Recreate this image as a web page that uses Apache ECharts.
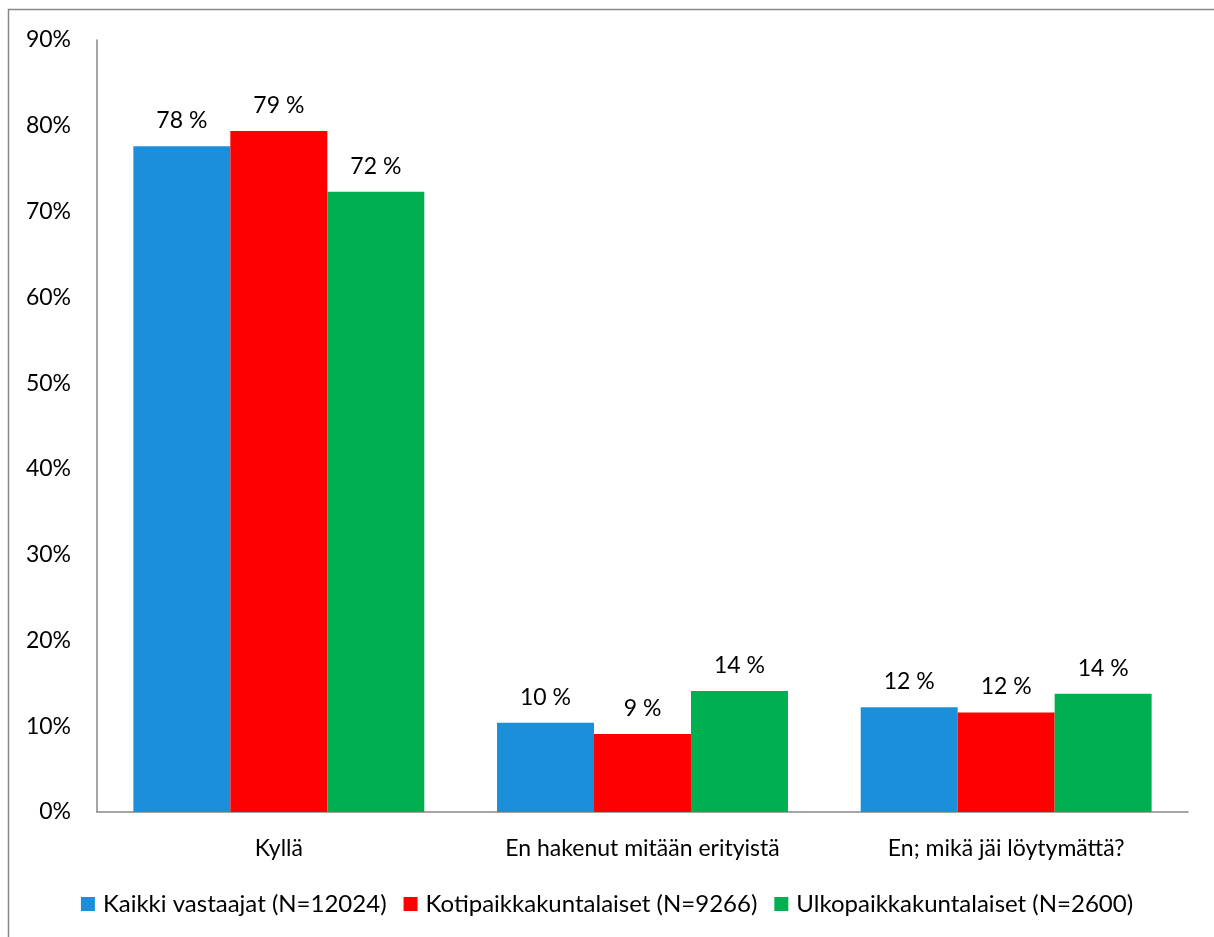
<!DOCTYPE html>
<html><head><meta charset="utf-8">
<script src="https://cdn.jsdelivr.net/npm/echarts@6/dist/echarts.min.js"></script>
<style>html,body{margin:0;padding:0;background:#fff}#c{width:1214px;height:937px}</style>
</head><body><div id="c"></div>
<script>
const categories = ["Kyllä", "En hakenut mitään erityistä", "En; mikä jäi löytymättä?"];
const seriesNames = ["Kaikki vastaajat (N=12024)", "Kotipaikkakuntalaiset (N=9266)", "Ulkopaikkakuntalaiset (N=2600)"];
const kaikki = [77.6, 10.4, 12.2];
const koti = [79.4, 9.1, 11.6];
const ulko = [72.3, 14.1, 13.8];
const colors = ["#1c8fdb", "#ff0000", "#00b050"];
const FONT = "Lato";
const FS = 23;
const chart = echarts.init(document.getElementById('c'));
const mk = (name, data, i) => ({
  name, type: 'bar', data, barGap: '0%', barCategoryGap: '20%',
  itemStyle: { color: colors[i] },
  label: { show: true, position: 'top', distance: 14, color: '#000', fontFamily: FONT, fontSize: FS,
    formatter: p => Math.round(p.value) + ' %' }
});
chart.setOption({
  animation: false,
  textStyle: { fontFamily: FONT },
  graphic: [{ type: 'rect', shape: { x: 8.5, y: 9.5, width: 1220, height: 940 },
    style: { fill: 'none', stroke: '#888', lineWidth: 1.5 }, z: -1 }],
  grid: { left: 97, right: 26, top: 40, bottom: 125, containLabel: false },
  legend: { bottom: 16, left: 'center', itemWidth: 14, itemHeight: 14, itemGap: 17,
    icon: 'rect', textStyle: { fontFamily: FONT, fontSize: 24, color: '#000', padding: [0, 0, 0, 3] },
    data: seriesNames },
  xAxis: { type: 'category', data: categories,
    axisLine: { lineStyle: { color: '#888', width: 1.5 } }, axisTick: { show: false },
    axisLabel: { color: '#000', fontFamily: FONT, fontSize: FS, margin: 25 } },
  yAxis: { type: 'value', min: 0, max: 90, interval: 10,
    axisLine: { show: true, lineStyle: { color: '#888', width: 1.5 } }, axisTick: { show: false },
    splitLine: { show: false },
    axisLabel: { color: '#000', fontFamily: FONT, fontSize: FS, margin: 26, formatter: v => v + '%' } },
  series: [mk(seriesNames[0], kaikki, 0), mk(seriesNames[1], koti, 1), mk(seriesNames[2], ulko, 2)]
});
</script></body></html>
